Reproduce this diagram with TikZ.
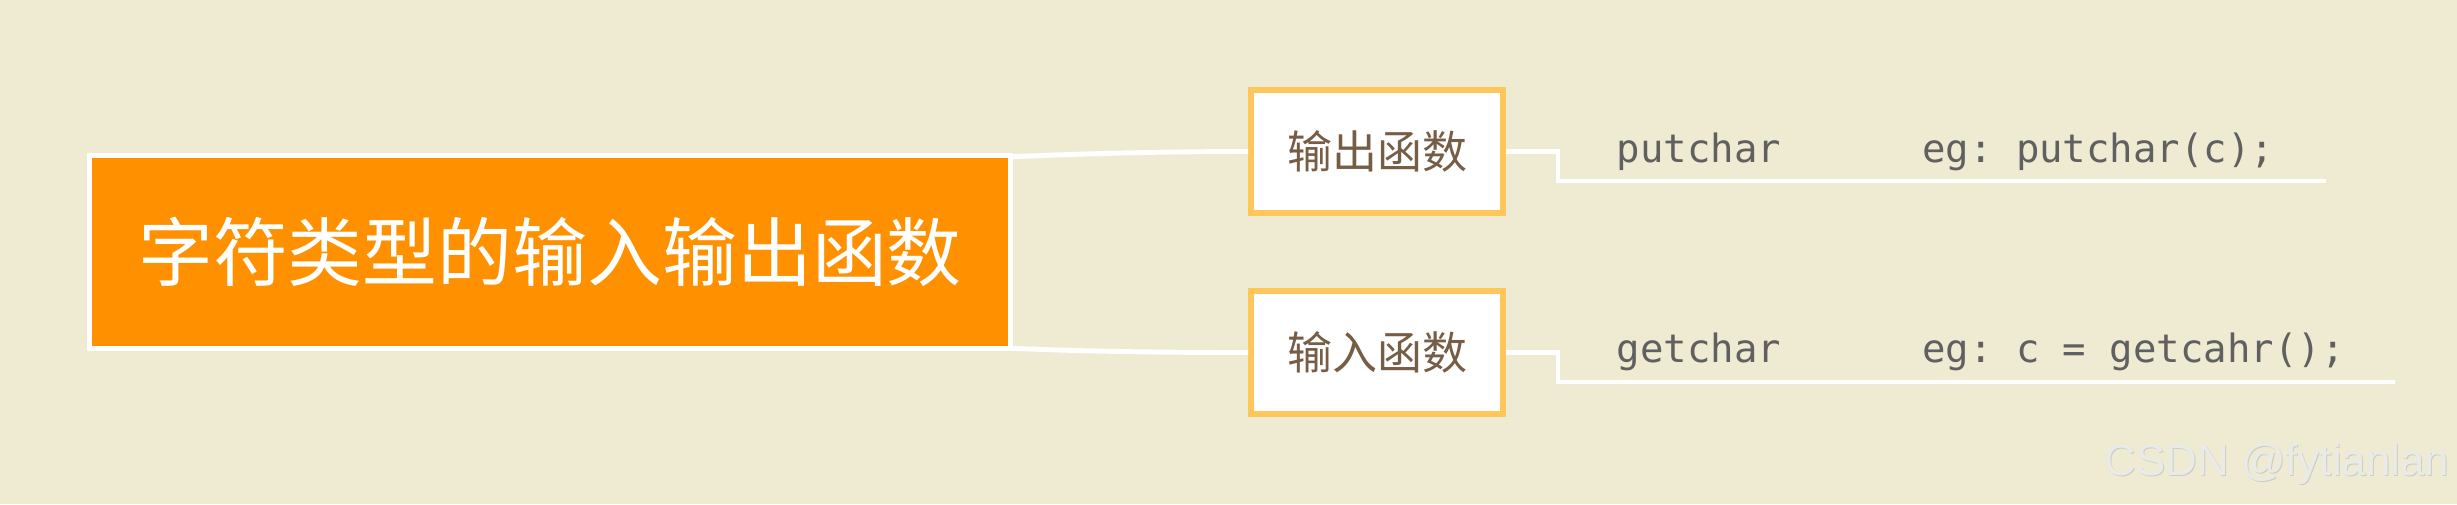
\documentclass[tikz,border=0pt]{standalone}
\usepackage{fontspec}
\newfontfamily\cjk{Noto Sans CJK SC}
\newfontfamily\monof{DejaVu Sans Mono}
\newfontfamily\wmfont{Liberation Sans}
\definecolor{bgc}{RGB}{239,235,210}
\definecolor{mainorange}{RGB}{255,145,0}
\definecolor{subborder}{RGB}{255,199,90}
\definecolor{subtext}{RGB}{118,94,70}
\definecolor{codegrey}{RGB}{96,96,96}
\definecolor{wmlight}{RGB}{234,234,230}
\definecolor{wmshadow}{RGB}{205,205,200}
\tikzset{
  mainbox/.style={draw=white, fill=mainorange, line width=1.6pt, inner sep=0pt,
    minimum width=9.21cm, minimum height=1.93cm, text=white,
    font=\cjk\fontsize{21.3pt}{25pt}\selectfont},
  subbox/.style={draw=subborder, fill=white, line width=1.7pt, inner sep=0pt,
    minimum width=2.52cm, minimum height=1.23cm, text=subtext,
    font=\cjk\fontsize{12.8pt}{15pt}\selectfont},
  conn/.style={draw=white, line width=1.4pt},
  code/.style={inner sep=0pt, anchor=base west, text=codegrey,
    font=\monof\fontsize{11.1pt}{13pt}\selectfont\frenchspacing},
  wm/.style={inner sep=0pt, anchor=base east, font=\wmfont\fontsize{12.5pt}{15pt}\selectfont}
}
\begin{document}
\begin{tikzpicture}
\fill[bgc] (0,0) rectangle (24.57,-5.04);
\useasboundingbox (0,0) rectangle (24.57,-5.04);

\node[mainbox] (main) at (5.50,-2.52) {字符类型的输入输出函数};
\node[subbox] (out) at (13.77,-1.515) {输出函数};
\node[subbox] (in) at (13.77,-3.525) {输入函数};

\coordinate (end1) at (23.26,-1.81);
\coordinate (end2) at (23.95,-3.82);

\draw[conn] ([yshift=-0.04cm]main.north east) .. controls +(0.7cm,0.03cm) and +(-0.9cm,0) .. (out.west);
\draw[conn] ([yshift=0.03cm]main.south east) .. controls +(0.7cm,-0.03cm) and +(-0.9cm,0) .. (in.west);

\draw[conn] (out.east) -- ++(0.52,0) |- (end1);
\draw[conn] (in.east) -- ++(0.52,0) |- (end2);

\node[code] (t1) at (16.16,-1.62) {putchar\ \ \ \ \ \ eg: putchar(c);};
\node[code] (t2) at (16.16,-3.62) {getchar\ \ \ \ \ \ eg: c = getcahr();};

\node[wm, text=wmshadow] (wms) at (24.51,-4.76) {CSDN @fytianlan};
\node[wm, text=wmlight] (wmt) at (24.50,-4.75) {CSDN @fytianlan};
\end{tikzpicture}
\end{document}
